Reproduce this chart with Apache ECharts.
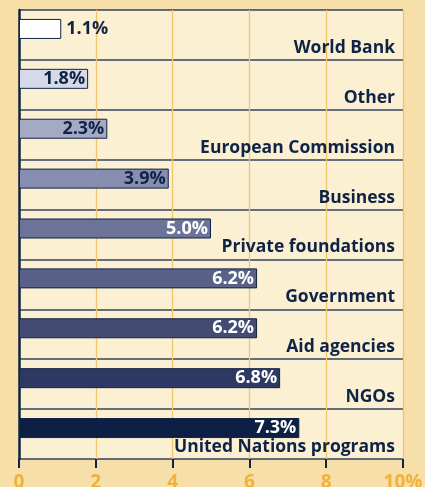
<!DOCTYPE html>
<html>
<head>
<meta charset="utf-8">
<script src="https://cdn.jsdelivr.net/npm/echarts@6/dist/echarts.min.js"></script>
<style>
  html, body { margin: 0; padding: 0; background: #F6DFA9; }
  #main { width: 425px; height: 487px; }
</style>
</head>
<body>
<div id="main"></div>
<script>
// data (top to bottom)
const categories = ['World Bank', 'Other', 'European Commission', 'Business', 'Private foundations',
  'Government', 'Aid agencies', 'NGOs', 'United Nations programs'];
const shares = [1.1, 1.8, 2.3, 3.9, 5.0, 6.2, 6.2, 6.8, 7.3];
const xTicks = [0, 2, 4, 6, 8, 10];

// bar shades, light to dark
const palette = ['#FFFFFF', '#D6DAE6', '#A5AAC4', '#888EB0', '#6B7398', '#5A6188', '#434B73', '#2D3863', '#0E1F45'];
const navy = '#0F2347';
const orange = '#F0B23A';
const font = '"Open Sans"';

const chartDom = document.getElementById('main');
const myChart = echarts.init(chartDom);

const barData = shares.map(function (v, i) {
  const small = v < 1.5;
  const light = v < 4.5;
  return {
    value: v,
    itemStyle: { color: palette[i] },
    label: {
      position: small ? 'right' : 'insideRight',
      color: light ? navy : '#FFFFFF',
      distance: small ? 5 : 3
    }
  };
});

const option = {
  backgroundColor: '#F6DFA9',
  grid: {
    left: 19, right: 22, top: 10, bottom: 28,
    outerBoundsMode: 'none',
    containLabel: false,
    show: true,
    backgroundColor: '#FCF0D3',
    borderWidth: 0
  },
  xAxis: {
    type: 'value',
    min: xTicks[0],
    max: xTicks[xTicks.length - 1],
    interval: 2,
    axisLine: { show: false },
    axisTick: { show: true, length: 9, lineStyle: { color: navy, width: 2 } },
    splitLine: { show: true, lineStyle: { color: '#F2C56A', width: 1.3 } },
    axisLabel: {
      margin: 14,
      color: orange,
      fontFamily: font,
      fontWeight: 'bold',
      fontSize: 19,
      formatter: function (v) { return v === 10 ? '10%' : String(v); }
    }
  },
  yAxis: {
    type: 'category',
    inverse: true,
    data: categories,
    axisLine: { show: true, lineStyle: { color: navy, width: 2.5 } },
    axisTick: { show: false },
    axisLabel: { show: false },
    splitLine: { show: true, lineStyle: { color: navy, width: 1.5, opacity: 0.85 } }
  },
  series: [
    {
      type: 'bar',
      barWidth: 20,
      barGap: '0%',
      data: barData,
      itemStyle: { borderColor: navy, borderWidth: 1 },
      label: {
        show: true,
        fontFamily: font,
        fontWeight: 'bold',
        fontSize: 18,
        formatter: function (p) { return p.value.toFixed(1) + '%'; }
      },
      silent: true,
      z: 3
    },
    {
      // invisible full-width bar that carries the category name
      type: 'bar',
      barWidth: 12,
      data: categories.map(function () { return 10; }),
      itemStyle: { color: 'rgba(0,0,0,0)' },
      label: {
        show: true,
        position: 'insideRight',
        distance: 8,
        offset: [0, 3],
        color: navy,
        fontFamily: font,
        fontWeight: 'bold',
        fontSize: 17.5,
        formatter: function (p) { return categories[p.dataIndex]; }
      },
      silent: true,
      z: 2
    }
  ]
};

myChart.setOption(option);
</script>
</body>
</html>
